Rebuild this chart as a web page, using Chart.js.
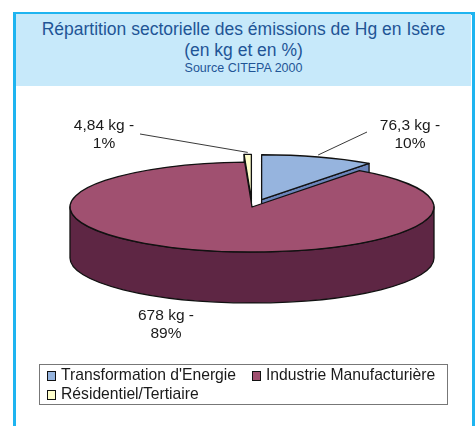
<!DOCTYPE html>
<html>
<head>
<meta charset="utf-8">
<script src="https://cdn.jsdelivr.net/npm/chart.js@4.4.1/dist/chart.umd.min.js"></script>
<style>
body { margin: 0; width: 476px; height: 426px; overflow: hidden; background: #fff; font-family: "Liberation Sans", Arial, sans-serif; }
#frame { position: absolute; left: 13px; top: 12px; width: 456px; height: 430px; border: 3px solid #1EB4F0; border-bottom: none; background: #fff; }
#header { position: absolute; left: 16px; top: 14px; width: 455px; height: 72px; background: #C7E9FA; color: #1F5596; text-align: center; }
#header .t1 { position: absolute; left: 0; right: 0; top: 4px; font-size: 17.5px; line-height: 22px; }
#header .t2 { position: absolute; left: 0; right: 0; top: 25px; font-size: 17.5px; line-height: 22px; }
#header .t3 { position: absolute; left: 0; right: 0; top: 46px; font-size: 12.5px; line-height: 16px; }
#chart { position: absolute; left: 0; top: 0; }
#legend { position: absolute; left: 39px; top: 364px; width: 409px; height: 41px; border: 1px solid #777; box-sizing: border-box; padding: 1px 0 0 7px; display: grid; grid-template-columns: 205px auto; font-size: 15.7px; line-height: 18px; color: #1a1a1a; }
#legend span.box { display: inline-block; width: 7px; height: 8px; border: 1px solid #111; margin-right: 5px; vertical-align: -1px; }
</style>
</head>
<body>
<div id="frame"></div>
<div id="header">
  <div class="t1">Répartition sectorielle des émissions de Hg en Isère</div>
  <div class="t2">(en kg et en %)</div>
  <div class="t3">Source CITEPA 2000</div>
</div>
<canvas id="chart" width="476" height="426"></canvas>
<div id="legend"></div>

<script>
const categories = ["Transformation d'Energie", "Industrie Manufacturière", "Résidentiel/Tertiaire"];
const emissionsKg = [76.3, 678, 4.84];

const topColors = ['#96B4DE', '#A05070', '#FFFFCC'];
const sideColors = ['#6A84BA', '#5E2644', '#C4C4A0'];
const explode = [31, 0, 31];

// label text centres and leader line starts (null = no leader)
const labelPos = [[410, 126], [166, 316], [104, 126]];
const leaderFrom = [[367, 132], null, [140, 134]];

// projected pie: top ellipse centre, horizontal radius, tilt, side depth
const PIE = { cx: 252, cy: 207, rx: 182, tilt: 0.247, depth: 51 };

const total = emissionsKg.reduce((a, b) => a + b, 0);

function sliceGeom(arc, i) {
    const mid = (arc.startAngle + arc.endAngle) / 2;
    const e = explode[i];
    return {
        x: PIE.cx + e * Math.cos(mid),
        y: PIE.cy + e * Math.sin(mid) * PIE.tilt,
        rx: PIE.rx,
        ry: PIE.rx * PIE.tilt,
        mid: mid
    };
}

function rimPoint(g, a, drop) {
    return [g.x + g.rx * Math.cos(a), g.y + g.ry * Math.sin(a) + (drop || 0)];
}

function drawRadialFace(ctx, g, a, color) {
    const p = rimPoint(g, a);
    ctx.beginPath();
    ctx.moveTo(g.x, g.y);
    ctx.lineTo(p[0], p[1]);
    ctx.lineTo(p[0], p[1] + PIE.depth);
    ctx.lineTo(g.x, g.y + PIE.depth);
    ctx.closePath();
    ctx.fillStyle = color;
    ctx.fill();
    ctx.stroke();
}

function drawWall(ctx, g, a1, a2, color) {
    ctx.beginPath();
    ctx.ellipse(g.x, g.y, g.rx, g.ry, 0, a1, a2);
    ctx.ellipse(g.x, g.y + PIE.depth, g.rx, g.ry, 0, a2, a1, true);
    ctx.closePath();
    ctx.fillStyle = color;
    ctx.fill();
    ctx.stroke();
}

const pie3d = {
    id: 'pie3d',
    beforeDatasetDraw(chart, args) {
        const ctx = chart.ctx;
        const arcs = chart.getDatasetMeta(args.index).data;
        const order = arcs.map((a, i) => i).sort((p, q) => {
            const mp = (arcs[p].startAngle + arcs[p].endAngle) / 2;
            const mq = (arcs[q].startAngle + arcs[q].endAngle) / 2;
            return Math.sin(mp) - Math.sin(mq);
        });

        ctx.save();
        ctx.lineWidth = 1.3;
        ctx.strokeStyle = '#111';
        ctx.lineJoin = 'round';

        // sides first
        order.forEach(i => {
            const arc = arcs[i];
            const g = sliceGeom(arc, i);
            const s = arc.startAngle, e = arc.endAngle;
            if (Math.cos(s) < -0.001) drawRadialFace(ctx, g, s, sideColors[i]);
            if (Math.cos(e) > 0.001) drawRadialFace(ctx, g, e, sideColors[i]);
            [[-2 * Math.PI, -Math.PI], [0, Math.PI], [2 * Math.PI, 3 * Math.PI]].forEach(([lo, hi]) => {
                const a1 = Math.max(s, lo), a2 = Math.min(e, hi);
                if (a2 > a1) drawWall(ctx, g, a1, a2, sideColors[i]);
            });
        });

        // top faces: the library's arcs, squashed into the ellipse
        order.forEach(i => {
            const arc = arcs[i];
            const g = sliceGeom(arc, i);
            const k = PIE.rx / arc.outerRadius;
            ctx.save();
            ctx.translate(g.x, g.y);
            ctx.scale(k, k * PIE.tilt);
            ctx.translate(-arc.x, -arc.y);
            arc.draw(ctx);
            ctx.restore();

            ctx.beginPath();
            ctx.moveTo(g.x, g.y);
            ctx.ellipse(g.x, g.y, g.rx, g.ry, 0, arc.startAngle, arc.endAngle);
            ctx.closePath();
            ctx.stroke();
        });
        ctx.restore();
        return false;
    },
    afterDatasetsDraw(chart) {
        const ctx = chart.ctx;
        const arcs = chart.getDatasetMeta(0).data;
        ctx.save();
        ctx.font = '15.5px "Liberation Sans", Arial, sans-serif';
        ctx.fillStyle = '#1a1a1a';
        ctx.textAlign = 'center';
        ctx.textBaseline = 'middle';
        arcs.forEach((arc, i) => {
            const v = emissionsKg[i];
            const [lx, ly] = labelPos[i];
            ctx.fillText(String(v).replace('.', ',') + ' kg -', lx, ly);
            ctx.fillText(Math.round(v / total * 100) + '%', lx, ly + 18);
            if (leaderFrom[i]) {
                const g = sliceGeom(arc, i);
                const p = rimPoint(g, g.mid);
                ctx.beginPath();
                ctx.moveTo(leaderFrom[i][0], leaderFrom[i][1]);
                ctx.lineTo(p[0], p[1] - 2);
                ctx.strokeStyle = '#222';
                ctx.lineWidth = 0.9;
                ctx.stroke();
            }
        });
        ctx.restore();
    }
};

new Chart(document.getElementById('chart'), {
    type: 'pie',
    data: {
        labels: categories,
        datasets: [{
            data: emissionsKg,
            backgroundColor: topColors,
            borderWidth: 0
        }]
    },
    options: {
        responsive: false,
        animation: false,
        events: [],
        plugins: { legend: { display: false }, tooltip: { enabled: false } }
    },
    plugins: [pie3d]
});

const legend = document.getElementById('legend');
categories.forEach((name, i) => {
    const item = document.createElement('div');
    item.innerHTML = `<span class="box" style="background:${topColors[i]}"></span>${name}`;
    legend.appendChild(item);
});
</script>
</body>
</html>
